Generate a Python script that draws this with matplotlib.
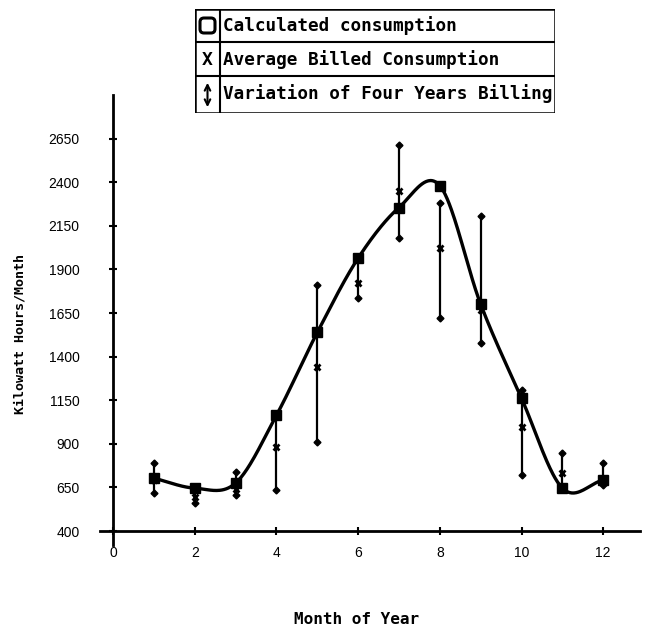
import numpy as np
import matplotlib
matplotlib.use('Agg')
import matplotlib.pyplot as plt
from matplotlib.patches import Rectangle, FancyBboxPatch

# values
months = [1, 2, 3, 4, 5, 6, 7, 8, 9, 10, 11, 12]
calculated = [703, 646, 675, 1064, 1539, 1965, 2255, 2380, 1700, 1161, 646, 692]
avg_billed = [690, 595, 640, 880, 1339, 1825, 2352, 2020, 1670, 995, 732, 680]
bill_low = [617, 560, 606, 635, 909, 1734, 2083, 1619, 1476, 720, 640, 663]
bill_high = [789, 646, 738, 1070, 1808, 1960, 2615, 2283, 2209, 1207, 846, 789]
yticks = [400, 650, 900, 1150, 1400, 1650, 1900, 2150, 2400, 2650]
xticks = [0, 2, 4, 6, 8, 10, 12]


def catmull_rom(x, y, per_seg=40):
    # cardinal spline through the points, one-sided tangents at the ends
    x = np.asarray(x, float)
    y = np.asarray(y, float)
    m = np.gradient(y, x)
    xs_all, ys_all = [], []
    for i in range(len(x) - 1):
        h = x[i + 1] - x[i]
        t = np.linspace(0, 1, per_seg)
        h00 = 2 * t**3 - 3 * t**2 + 1
        h10 = t**3 - 2 * t**2 + t
        h01 = -2 * t**3 + 3 * t**2
        h11 = t**3 - t**2
        xs_all.append(x[i] + t * h)
        ys_all.append(h00 * y[i] + h10 * h * m[i] + h01 * y[i + 1] + h11 * h * m[i + 1])
    return np.concatenate(xs_all), np.concatenate(ys_all)


mono = 'DejaVu Sans Mono'

fig = plt.figure(figsize=(6.49, 6.34), dpi=100)
ax = fig.add_axes([100 / 649, 89 / 634, 540 / 649, 450 / 634])

# error bars (four years billing variation)
ax.vlines(months, bill_low, bill_high, color='black', lw=1.6)
ax.plot(months, bill_low, 'D', color='black', ms=3.5)
ax.plot(months, bill_high, 'D', color='black', ms=3.5)

# smooth curve through calculated consumption
cx, cy = catmull_rom(months, calculated)
ax.plot(cx, cy, color='black', lw=2.4)
ax.plot(months, calculated, 's', color='black', ms=7)
ax.plot(months, avg_billed, 'x', color='black', ms=5, mew=2)

ax.set_xlim(-0.32, 12.9)
ax.set_ylim(320, 2900)
ax.spines['left'].set_position(('data', 0))
ax.spines['bottom'].set_position(('data', 400))
ax.spines['top'].set_visible(False)
ax.spines['right'].set_visible(False)
ax.spines['left'].set_linewidth(2)
ax.spines['bottom'].set_linewidth(2)

ax.set_yticks(yticks)
ax.set_yticklabels([str(v) for v in yticks], fontsize=10, family='Liberation Sans')
ax.set_xticks(xticks)
ax.set_xticklabels([str(v) for v in xticks], fontsize=10, family='Liberation Sans')
ax.tick_params(axis='y', direction='inout', length=6, width=1.5, pad=21)
ax.tick_params(axis='x', direction='inout', length=6, width=1.5, pad=8)

fig.text(357 / 649, 1 - 620 / 634, 'Month of Year', ha='center', va='center',
         fontsize=11.5, family=mono, weight='bold')
fig.text(20 / 649, 1 - 334 / 634, 'Kilowatt Hours/Month', ha='center', va='center',
         rotation=90, fontsize=9.6, family=mono, weight='bold')

# legend box drawn by hand
lg = fig.add_axes([195 / 649, 1 - 113 / 634, 360 / 649, 104 / 634])
lg.set_xlim(0, 360)
lg.set_ylim(104, 0)
lg.axis('off')
lg.add_patch(Rectangle((0, 0), 360, 104, fill=False, lw=1.8, ec='black'))
lg.plot([0, 360], [33, 33], color='black', lw=1.5)
lg.plot([0, 360], [67, 67], color='black', lw=1.5)
lg.plot([25, 25], [0, 104], color='black', lw=1.5)
labels = ['Calculated consumption', 'Average Billed Consumption',
          'Variation of Four Years Billing']
for i, lab in enumerate(labels):
    lg.text(28, 17 + 34 * i, lab, ha='left', va='center', fontsize=12.7,
            family=mono, weight='bold')
lg.add_patch(FancyBboxPatch((5, 9), 15, 15, boxstyle='round,pad=0,rounding_size=4',
                            fill=False, lw=2.2, ec='black'))
lg.text(12.5, 51, 'X', ha='center', va='center', fontsize=13, family=mono, weight='bold')
lg.annotate('', xy=(12.5, 71), xytext=(12.5, 101),
            arrowprops=dict(arrowstyle='<->', lw=1.5, color='black'))

fig.savefig('out.png', dpi=100)
